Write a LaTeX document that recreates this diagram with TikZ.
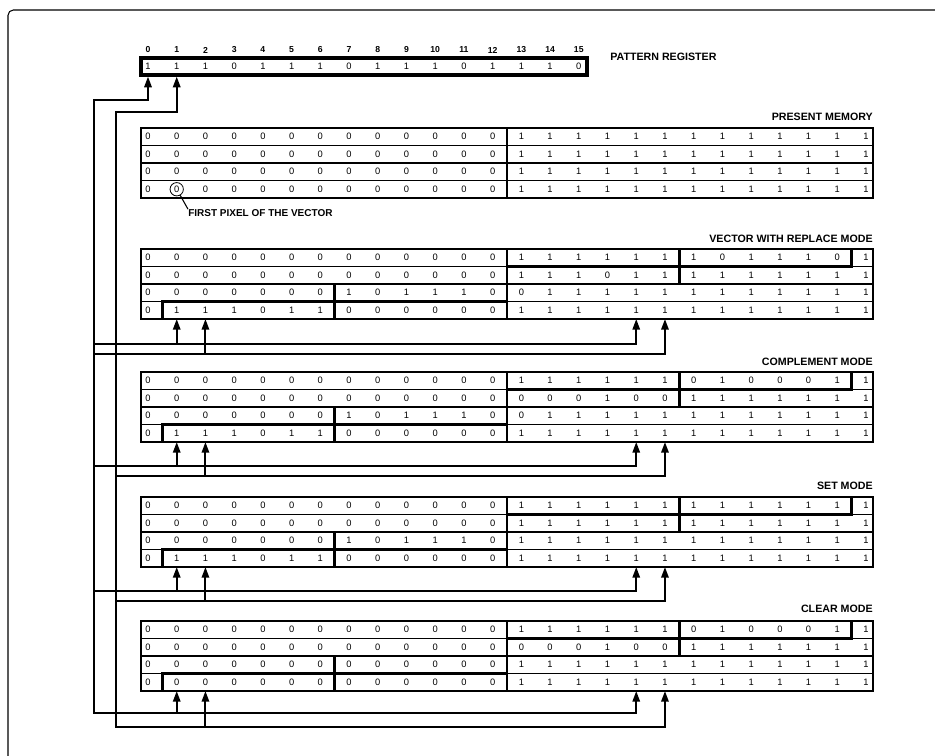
\documentclass[tikz,border=0pt]{standalone}
\usepackage{fontspec}
\setmainfont{Liberation Sans}
\usetikzlibrary{arrows.meta}

%% one memory block: frame, row lines and the split between word 0 and word 1
\newcommand{\memframe}[2]{%
  \draw[gridline] (141,#2) rectangle (873,#2+70);
  \foreach \r in {1,2,3}
    \draw[gridline] (141,{#2+17.5*\r}) -- (873,{#2+17.5*\r});
  \draw[gridline] (507,#2) -- (507,#2+70);
  \coordinate (#1-bot) at (507,#2+70);
}
%% one row of pixels: name, row, top of block, bits
\newcommand{\bitrow}[4]{%
  \foreach \v [count=\c from 0] in {#4}
    \node[bit] (#1-#2-\c) at ({148+28.72*\c},{#3+8.75+17.5*#2}) {\v};
}
%% the written vector, one heavy box per row
\newcommand{\vecpath}[1]{%
  \draw[vecbox] (162.36,#1+52.5) rectangle (334.68,#1+70);
  \draw[vecbox] (334.68,#1+35)   rectangle (507,#1+52.5);
  \draw[vecbox] (507,#1+17.5)    rectangle (679.32,#1+35);
  \draw[vecbox] (679.32,#1)      rectangle (851.64,#1+17.5);
}
%% pattern bits fed back under a block: name, y of bit 0 line, y of bit 1 line, start of bit 1 line
\newcommand{\feed}[4]{%
  \coordinate (#1A) at (94,#2);
  \coordinate (#1B) at (#4,#3);
  \draw[arr] (#1A) -- (#1A -| #1-3-17) -- (#1-3-17 |- #1-bot);
  \draw[arr] (#1B) -- (#1B -| #1-3-18) -- (#1-3-18 |- #1-bot);
  \draw[arr] (#1A -| #1-3-1) -- (#1-3-1 |- #1-bot);
  \draw[arr] (#1B -| #1-3-2) -- (#1-3-2 |- #1-bot);
}

\begin{document}
\begin{tikzpicture}[
    x=0.75pt, y=-0.75pt,
    bit/.style={inner sep=0pt, font=\fontsize{7}{8}\selectfont},
    idx/.style={inner sep=0pt, font=\fontsize{6.5}{7}\selectfont\bfseries},
    title/.style={inner sep=0pt, anchor=east, font=\fontsize{8}{9}\selectfont\bfseries},
    note/.style={inner sep=0pt, anchor=west, font=\fontsize{7.5}{8}\selectfont\bfseries},
    gridline/.style={draw=black, line width=0.8pt},
    vecbox/.style={draw=black, line width=2pt},
    regbox/.style={draw=black, line width=2.4pt, inner sep=0pt,
        minimum width=334.5pt, minimum height=12.75pt},
    ring/.style={circle, draw=black, line width=0.6pt, minimum size=10pt, inner sep=0pt},
    bus/.style={draw=black, line width=1.5pt},
    arr/.style={bus, -{Triangle[length=8pt,width=5.5pt]}},
    dbl/.style={bus, {Triangle[length=8pt,width=5.5pt]}-{Triangle[length=8pt,width=5.5pt]}}
]
\useasboundingbox (0,0) rectangle (935,756);
\draw[line width=0.8pt, rounded corners=4pt] (8,756) -- (8,10) -- (935,10);

%% ══════════════════════════════ PATTERN REGISTER ══════════════════════════════
\node[regbox] (preg) at (364,66.5) {};
\foreach \v [count=\c from 0] in {1,1,1,0,1,1,1,0,1,1,1,0,1,1,1,0} {
  \node[bit] (reg-\c) at ({148+28.72*\c},66.5) {\v};
  \node[idx] (lbl-\c) at ({148+28.72*\c},50) {\c};
}
\node[title, anchor=west] (preg_t) at (610,57) {PATTERN REGISTER};

%% ══════════════════════════════ PRESENT MEMORY ══════════════════════════════
\node[title] (pm_t) at (873,117) {PRESENT MEMORY};
\memframe{pm}{128}
\foreach \r in {0,...,3} {
  \bitrow{pm}{\r}{128}{0,0,0,0,0,0,0,0,0,0,0,0,0,1,1,1,1,1,1,1,1,1,1,1,1,1}
}

\node[ring] (fp) at (pm-3-1) {};
\node[note] (fpn) at (188,213) {FIRST PIXEL OF THE VECTOR};
\draw[line width=0.8pt] (fp.-60) -- (fpn.north west);

%% ══════════════════════════════ REPLACE ══════════════════════════════
\node[title] (rep_t) at (873,239) {VECTOR WITH REPLACE MODE};
\memframe{rep}{249}
\bitrow{rep}{0}{249}{0,0,0,0,0,0,0,0,0,0,0,0,0,1,1,1,1,1,1,1,0,1,1,1,0,1}
\bitrow{rep}{1}{249}{0,0,0,0,0,0,0,0,0,0,0,0,0,1,1,1,0,1,1,1,1,1,1,1,1,1}
\bitrow{rep}{2}{249}{0,0,0,0,0,0,0,1,0,1,1,1,0,0,1,1,1,1,1,1,1,1,1,1,1,1}
\bitrow{rep}{3}{249}{0,1,1,1,0,1,1,0,0,0,0,0,0,1,1,1,1,1,1,1,1,1,1,1,1,1}
\vecpath{249}
\feed{rep}{344}{354}{94}

%% ══════════════════════════════ COMPLEMENT ══════════════════════════════
\node[title] (cmp_t) at (873,362) {COMPLEMENT MODE};
\memframe{cmp}{372}
\bitrow{cmp}{0}{372}{0,0,0,0,0,0,0,0,0,0,0,0,0,1,1,1,1,1,1,0,1,0,0,0,1,1}
\bitrow{cmp}{1}{372}{0,0,0,0,0,0,0,0,0,0,0,0,0,0,0,0,1,0,0,1,1,1,1,1,1,1}
\bitrow{cmp}{2}{372}{0,0,0,0,0,0,0,1,0,1,1,1,0,0,1,1,1,1,1,1,1,1,1,1,1,1}
\bitrow{cmp}{3}{372}{0,1,1,1,0,1,1,0,0,0,0,0,0,1,1,1,1,1,1,1,1,1,1,1,1,1}
\vecpath{372}
\feed{cmp}{466}{476}{116}

%% ══════════════════════════════ SET ══════════════════════════════
\node[title] (stm_t) at (873,486) {SET MODE};
\memframe{stm}{497}
\bitrow{stm}{0}{497}{0,0,0,0,0,0,0,0,0,0,0,0,0,1,1,1,1,1,1,1,1,1,1,1,1,1}
\bitrow{stm}{1}{497}{0,0,0,0,0,0,0,0,0,0,0,0,0,1,1,1,1,1,1,1,1,1,1,1,1,1}
\bitrow{stm}{2}{497}{0,0,0,0,0,0,0,1,0,1,1,1,0,1,1,1,1,1,1,1,1,1,1,1,1,1}
\bitrow{stm}{3}{497}{0,1,1,1,0,1,1,0,0,0,0,0,0,1,1,1,1,1,1,1,1,1,1,1,1,1}
\vecpath{497}
\feed{stm}{591}{601}{116}

%% ══════════════════════════════ CLEAR ══════════════════════════════
\node[title] (clr_t) at (873,609) {CLEAR MODE};
\memframe{clr}{621}
\bitrow{clr}{0}{621}{0,0,0,0,0,0,0,0,0,0,0,0,0,1,1,1,1,1,1,0,1,0,0,0,1,1}
\bitrow{clr}{1}{621}{0,0,0,0,0,0,0,0,0,0,0,0,0,0,0,0,1,0,0,1,1,1,1,1,1,1}
\bitrow{clr}{2}{621}{0,0,0,0,0,0,0,0,0,0,0,0,0,1,1,1,1,1,1,1,1,1,1,1,1,1}
\bitrow{clr}{3}{621}{0,0,0,0,0,0,0,0,0,0,0,0,0,1,1,1,1,1,1,1,1,1,1,1,1,1}
\vecpath{621}

%% feedback loops: bit 0 and bit 1 of the register back to every block
\coordinate (topA) at (94,100.5);
\coordinate (topB) at (116,112.5);
\coordinate (clrA) at (94,713);
\coordinate (clrB) at (116,727);
\draw[dbl] (reg-0 |- preg.south) |- (topA) -- (clrA) -| (clr-3-17 |- clr-bot);
\draw[dbl] (reg-1 |- preg.south) |- (topB) -- (clrB) -| (clr-3-18 |- clr-bot);
\draw[arr] (clrA -| clr-3-1) -- (clr-3-1 |- clr-bot);
\draw[arr] (clrB -| clr-3-2) -- (clr-3-2 |- clr-bot);

\end{tikzpicture}
\end{document}
